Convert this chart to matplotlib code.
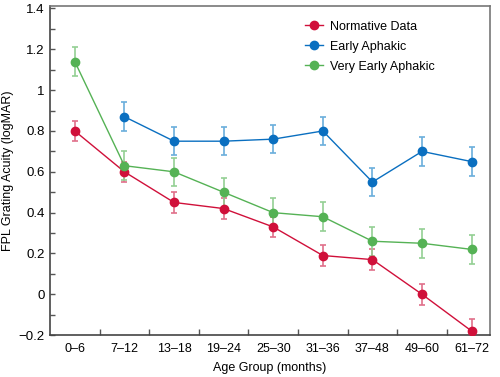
import matplotlib
matplotlib.use('Agg')
import matplotlib.pyplot as plt
from matplotlib.ticker import MultipleLocator, FixedLocator
import numpy as np

plt.rcParams['font.family'] = ['Liberation Sans', 'DejaVu Sans']

groups = ['0–6', '7–12', '13–18', '19–24', '25–30', '31–36', '37–48', '49–60', '61–72']

normative = [0.80, 0.60, 0.45, 0.42, 0.33, 0.19, 0.17, 0.00, -0.18]
normative_err = [0.05, 0.05, 0.05, 0.05, 0.05, 0.05, 0.05, 0.05, 0.06]

early = [np.nan, 0.87, 0.75, 0.75, 0.76, 0.80, 0.55, 0.70, 0.65]
early_err = [0, 0.07, 0.07, 0.07, 0.07, 0.07, 0.07, 0.07, 0.07]

very_early = [1.14, 0.63, 0.60, 0.50, 0.40, 0.38, 0.26, 0.25, 0.22]
very_early_err = [0.07, 0.07, 0.07, 0.07, 0.07, 0.07, 0.07, 0.07, 0.07]

series = [
    ('Normative Data', normative, normative_err, '#d0103a', '#e0708a'),
    ('Early Aphakic', early, early_err, '#0a6fc0', '#6aaedc'),
    ('Very Early Aphakic', very_early, very_early_err, '#55b255', '#94cf94'),
]

fig = plt.figure(figsize=(5, 3.77), dpi=100)
ax = fig.add_axes([0.1, 0.111, 0.88, 0.873])
x = np.arange(len(groups))

for name, vals, errs, col, ecol in series:
    vals = np.array(vals)
    errs = np.array(errs)
    m = ~np.isnan(vals)
    ax.errorbar(x[m], vals[m], yerr=errs[m], fmt='none', ecolor=ecol,
                elinewidth=1.2, capsize=2, capthick=1.2, zorder=2)
    ax.plot(x[m], vals[m], '-o', color=col, lw=1, ms=6, label=name, zorder=3)

ax.set_xlim(-0.5, 8.37)
ax.set_ylim(-0.2, 1.412)
ax.set_xticks(x)
ax.set_xticklabels(groups, fontsize=9)
ax.tick_params(axis='x', which='major', length=0, pad=6)
ax.xaxis.set_minor_locator(FixedLocator(x[:-1] + 0.5))
ax.tick_params(axis='x', which='minor', direction='in', length=4, width=1, color='#555555')

ax.yaxis.set_minor_locator(MultipleLocator(0.1))
ax.set_yticks([-0.2, 0, 0.2, 0.4, 0.6, 0.8, 1, 1.2, 1.4])
ax.set_yticklabels(['−0.2', '0', '0.2', '0.4', '0.6', '0.8', '1', '1.2', '1.4'], fontsize=9.5)
ax.tick_params(axis='y', which='both', direction='in', length=3.5, width=1, color='#555555', pad=4)

for s in ax.spines.values():
    s.set_color('#777777')
    s.set_linewidth(1.2)
ax.spines['left'].set_color('#444444')
ax.spines['bottom'].set_color('#444444')

ax.set_xlabel('Age Group (months)', fontsize=9, labelpad=5)
ax.set_ylabel('FPL Grating Acuity (logMAR)', fontsize=9, labelpad=3)

leg = ax.legend(loc='upper left', bbox_to_anchor=(0.555, 0.99), frameon=False,
                fontsize=9, handlelength=1.4, labelspacing=0.65,
                handletextpad=0.6)

fig.savefig('out.png', dpi=100)
